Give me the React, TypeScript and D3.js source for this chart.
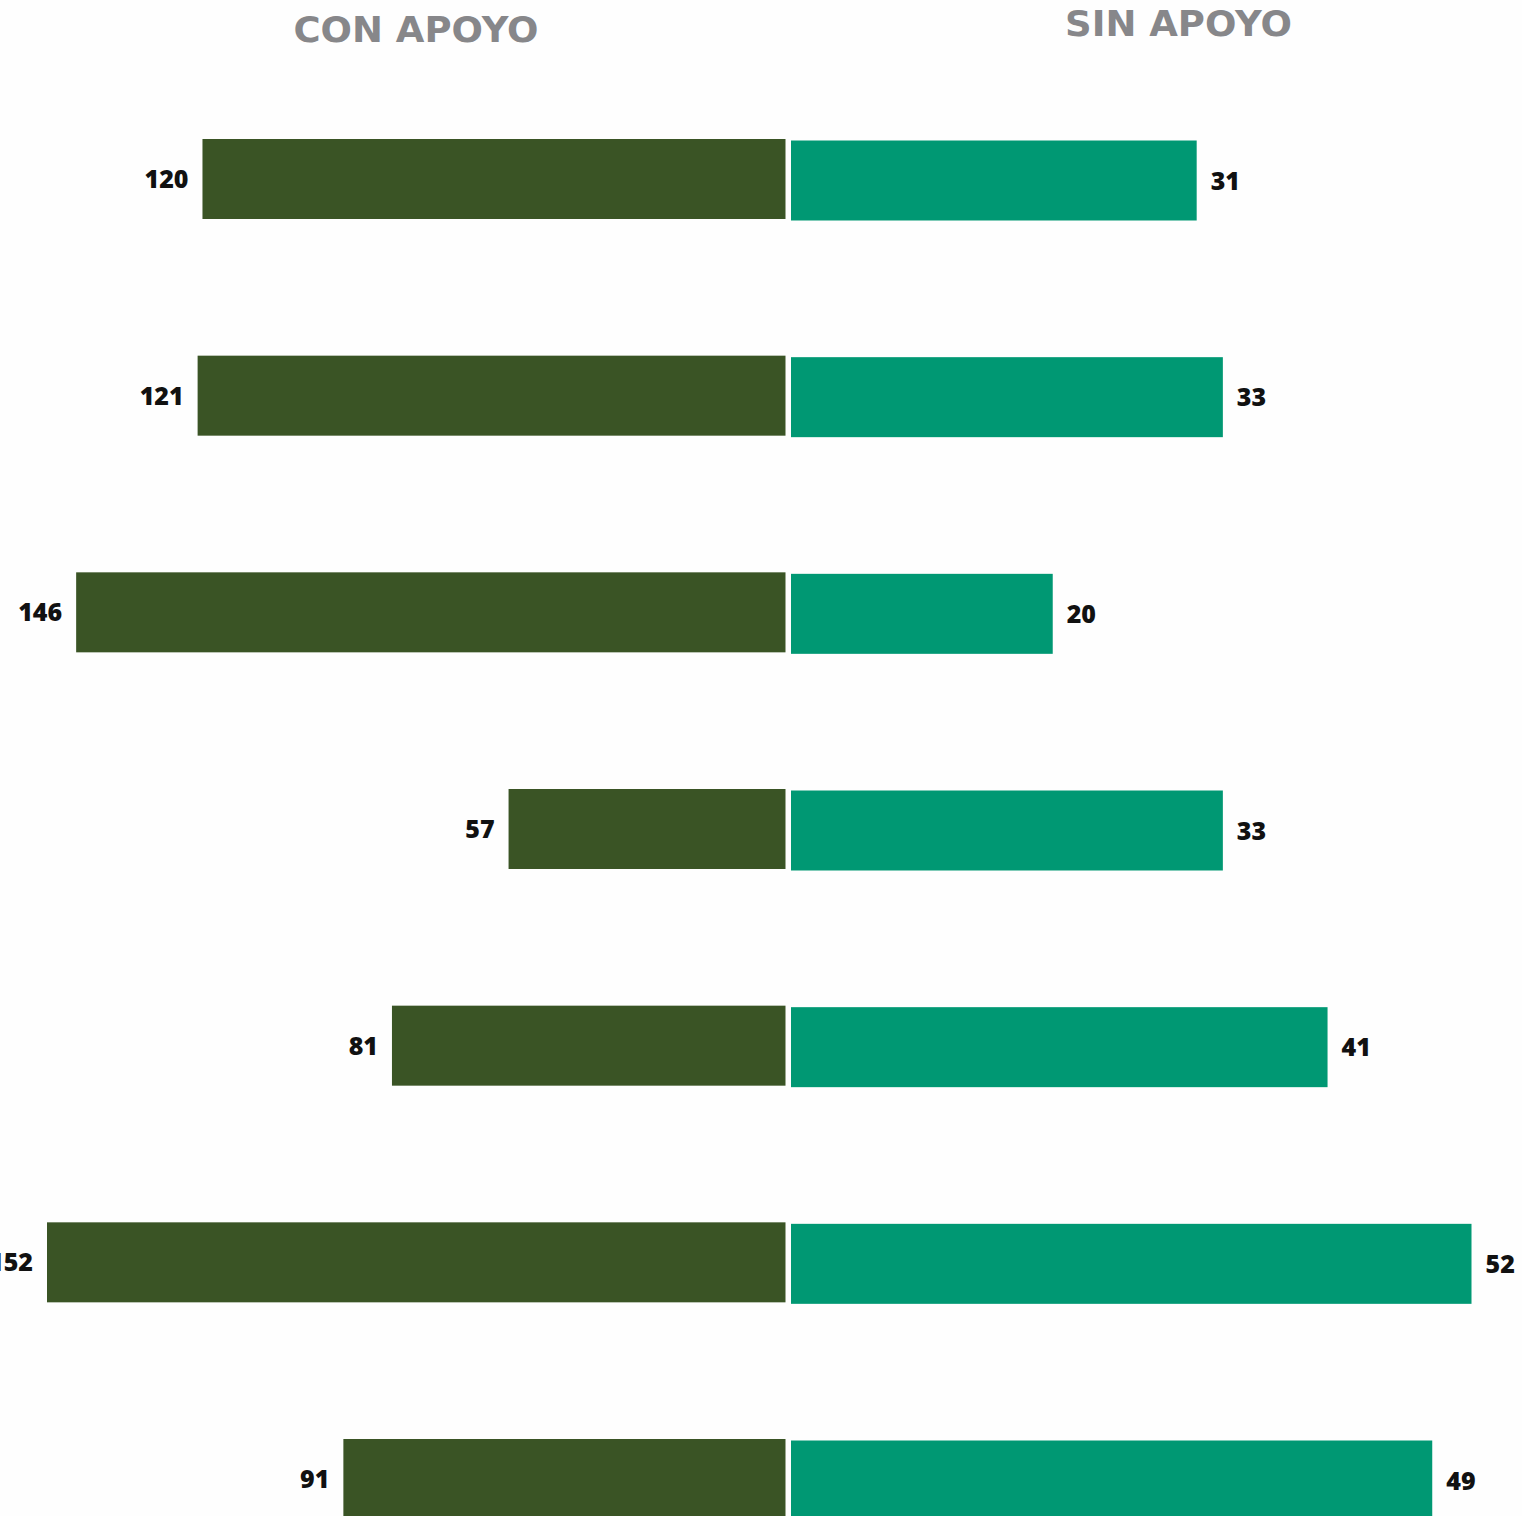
import React from "react";
import * as d3 from "d3";

const rows = ["r1", "r2", "r3", "r4", "r5", "r6", "r7"];
const conApoyo = [120, 121, 146, 57, 81, 152, 91];
const sinApoyo = [31, 33, 20, 33, 41, 52, 49];
const titles = ["CON APOYO", "SIN APOYO"];

const W = 1522;
const H = 1516;
const DARK = "#3a5425";
const TEAL = "#009873";
const GRAY = "#87878a";

export default function App() {
  const xLeft = d3.scaleLinear().domain([0, 152]).range([785.5, 47]);
  const xRight = d3.scaleLinear().domain([0, 52]).range([791, 1471.5]);
  const y = d3.scalePoint<string>().domain(rows).range([139, 1439]);
  const bh = 80;
  const font = "'Open Sans', sans-serif";

  return (
    <svg
      width={W}
      height={H}
      style={{ position: "absolute", left: 0, top: 0, background: "#fefefe" }}
    >
      <text
        x={416}
        y={42}
        textAnchor="middle"
        fontFamily="'DejaVu Sans', sans-serif"
        fontWeight={700}
        fontSize={35}
        fill={GRAY}
        textLength={245}
        lengthAdjust="spacingAndGlyphs"
      >
        {titles[0]}
      </text>
      <text
        x={1178.5}
        y={36}
        textAnchor="middle"
        fontFamily="'DejaVu Sans', sans-serif"
        fontWeight={700}
        fontSize={35}
        fill={GRAY}
        textLength={227}
        lengthAdjust="spacingAndGlyphs"
      >
        {titles[1]}
      </text>
      {rows.map((r, i) => {
        const y0 = y(r)!;
        const v1 = conApoyo[i];
        const v2 = sinApoyo[i];
        return (
          <g key={r}>
            <rect
              x={xLeft(v1)}
              y={y0}
              width={xLeft(0) - xLeft(v1)}
              height={bh}
              fill={DARK}
            />
            <rect
              x={xRight(0)}
              y={y0 + 1.5}
              width={xRight(v2) - xRight(0)}
              height={bh}
              fill={TEAL}
            />
            <text
              x={xLeft(v1) - 14}
              y={y0 + bh / 2 + 9}
              textAnchor="end"
              fontFamily={font}
              fontWeight={800}
              fontSize={25}
              fill="#111"
            >
              {v1}
            </text>
            <text
              x={xRight(v2) + 14}
              y={y0 + 1.5 + bh / 2 + 9}
              textAnchor="start"
              fontFamily={font}
              fontWeight={800}
              fontSize={25}
              fill="#111"
            >
              {v2}
            </text>
          </g>
        );
      })}
    </svg>
  );
}
